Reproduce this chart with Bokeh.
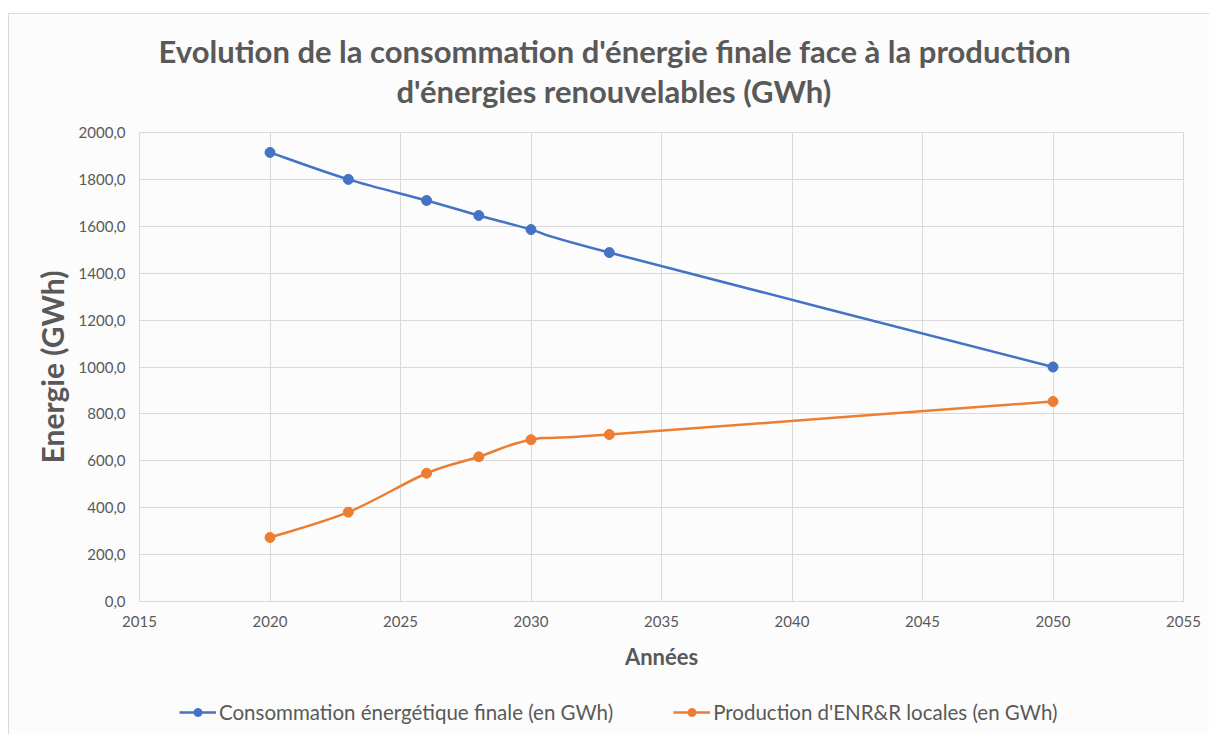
from bokeh.plotting import figure
from bokeh.layouts import column
from bokeh.models import (CustomJSTickFormatter, Legend, LegendItem, FixedTicker, Range1d, Title,
                          ColumnDataSource)
from bokeh.embed import file_html
from bokeh.resources import INLINE

years = [2020, 2023, 2026, 2028, 2030, 2033, 2050]
consommation = [1915, 1800, 1710, 1646, 1586, 1488, 1000]
production = [273, 381, 547, 617, 690, 712, 853]

x_ticks = [2015, 2020, 2025, 2030, 2035, 2040, 2045, 2050, 2055]
y_ticks = [0, 200, 400, 600, 800, 1000, 1200, 1400, 1600, 1800, 2000]

title_lines = ["Evolution de la consommation d'énergie finale face à la production",
               "d'énergies renouvelables (GWh)"]
series_names = ["Consommation énergétique finale (en GWh)",
                "Production d'ENR&R locales (en GWh)"]

TEXT = "#595959"
GRID = "#d9d9d9"
BLUE = "#4472C4"
ORANGE = "#ED7D31"
BG = "#fcfcfc"
FONT = "Lato"


def smooth_segments(xs, ys):
    """Bezier control points (Catmull-Rom style, like spreadsheet smoothed lines)."""
    n = len(xs)
    x0, y0, x1, y1, cx0, cy0, cx1, cy1 = [], [], [], [], [], [], [], []
    for i in range(n - 1):
        pxm = xs[i - 1] if i > 0 else xs[i]
        pym = ys[i - 1] if i > 0 else ys[i]
        pxp = xs[i + 2] if i + 2 < n else xs[i + 1]
        pyp = ys[i + 2] if i + 2 < n else ys[i + 1]
        x0.append(xs[i]); y0.append(ys[i])
        x1.append(xs[i + 1]); y1.append(ys[i + 1])
        cx0.append(xs[i] + (xs[i + 1] - pxm) / 6.0)
        cy0.append(ys[i] + (ys[i + 1] - pym) / 6.0)
        cx1.append(xs[i + 1] - (pxp - xs[i]) / 6.0)
        cy1.append(ys[i + 1] - (pyp - ys[i]) / 6.0)
    return dict(x0=x0, y0=y0, x1=x1, y1=y1, cx0=cx0, cy0=cy0, cx1=cx1, cy1=cy1)


p = figure(frame_width=1044, frame_height=469, output_backend="svg", toolbar_location=None,
           title=None,
           x_range=Range1d(2015, 2055), y_range=Range1d(0, 2000),
           min_border_left=130, min_border_right=26, min_border_top=118,
           min_border_bottom=88,
           background_fill_color=BG, border_fill_color=BG)

title_offsets = [19, 257]
for i, (line, off) in enumerate(reversed(list(zip(title_lines, title_offsets)))):
    t = Title(text=line, align="left", text_font=FONT, text_font_size="31px",
              text_font_style="bold", text_color=TEXT,
              standoff=45 if i == 0 else -44, offset=off)
    p.add_layout(t, "above")

p.outline_line_color = GRID
p.xgrid.grid_line_color = GRID
p.ygrid.grid_line_color = GRID
p.xgrid.ticker = FixedTicker(ticks=x_ticks)
p.ygrid.ticker = FixedTicker(ticks=y_ticks)

for ax in (p.xaxis[0], p.yaxis[0]):
    ax.axis_line_color = GRID
    ax.major_tick_line_color = None
    ax.minor_tick_line_color = None
    ax.major_tick_out = 0
    ax.major_label_text_font = FONT
    ax.major_label_text_font_size = "15px"
    ax.major_label_text_color = TEXT
    ax.axis_label_text_font = FONT
    ax.axis_label_text_font_style = "bold"
    ax.axis_label_text_color = TEXT

p.xaxis.ticker = FixedTicker(ticks=x_ticks)
p.yaxis.ticker = FixedTicker(ticks=y_ticks)
p.yaxis.formatter = CustomJSTickFormatter(code="return tick.toFixed(1).replace('.', ',');")
p.xaxis.major_label_standoff = 14
p.yaxis.major_label_standoff = 14
p.xaxis.axis_label = "Années"
p.xaxis.axis_label_text_font_size = "22px"
p.xaxis.axis_label_standoff = 13
p.yaxis.axis_label = "Energie (GWh)"
p.yaxis.axis_label_text_font_size = "30px"
p.yaxis.axis_label_standoff = 6

src1 = ColumnDataSource(smooth_segments(years, consommation))
src2 = ColumnDataSource(smooth_segments(years, production))
BEZ = dict(x0="x0", y0="y0", x1="x1", y1="y1", cx0="cx0", cy0="cy0", cx1="cx1", cy1="cy1")

p.bezier(source=src1, line_color=BLUE, line_width=2.5, **BEZ)
p.scatter(years, consommation, size=10, color=BLUE)
p.bezier(source=src2, line_color=ORANGE, line_width=2.5, **BEZ)
p.scatter(years, production, size=10, color=ORANGE)

# Legend strip under the chart (same series, shown only as legend samples)
lf = figure(width=1200, height=45, output_backend="svg", toolbar_location=None,
            x_range=Range1d(0, 1), y_range=Range1d(0, 1),
            x_axis_location=None, y_axis_location=None, min_border=0,
            background_fill_color=BG, border_fill_color=BG, outline_line_color=None)
lf.xgrid.visible = False
lf.ygrid.visible = False
lb1 = lf.bezier(source=src1, line_color=BLUE, line_width=2.5, **BEZ)
lm1 = lf.scatter(years, consommation, size=10, color=BLUE)
lb2 = lf.bezier(source=src2, line_color=ORANGE, line_width=2.5, **BEZ)
lm2 = lf.scatter(years, production, size=10, color=ORANGE)

legend = Legend(items=[
    LegendItem(label=series_names[0], renderers=[lb1, lm1]),
    LegendItem(label=series_names[1], renderers=[lb2, lm2]),
], orientation="horizontal", location=(40, 10))
legend.label_text_font = FONT
legend.label_text_font_size = "20.5px"
legend.label_text_color = TEXT
legend.background_fill_alpha = 0
legend.border_line_color = None
legend.glyph_width = 37
legend.label_standoff = 3
legend.spacing = 60
legend.margin = 0
legend.padding = 6
lf.add_layout(legend, "center")

layout = column(p, lf, spacing=0,
                styles={"border-left": "1px solid #d9d9d9", "border-top": "1px solid #d9d9d9",
                        "margin-left": "8px", "margin-top": "13px",
                        "background-color": BG})

open("out.html", "w").write(file_html(layout, INLINE))
